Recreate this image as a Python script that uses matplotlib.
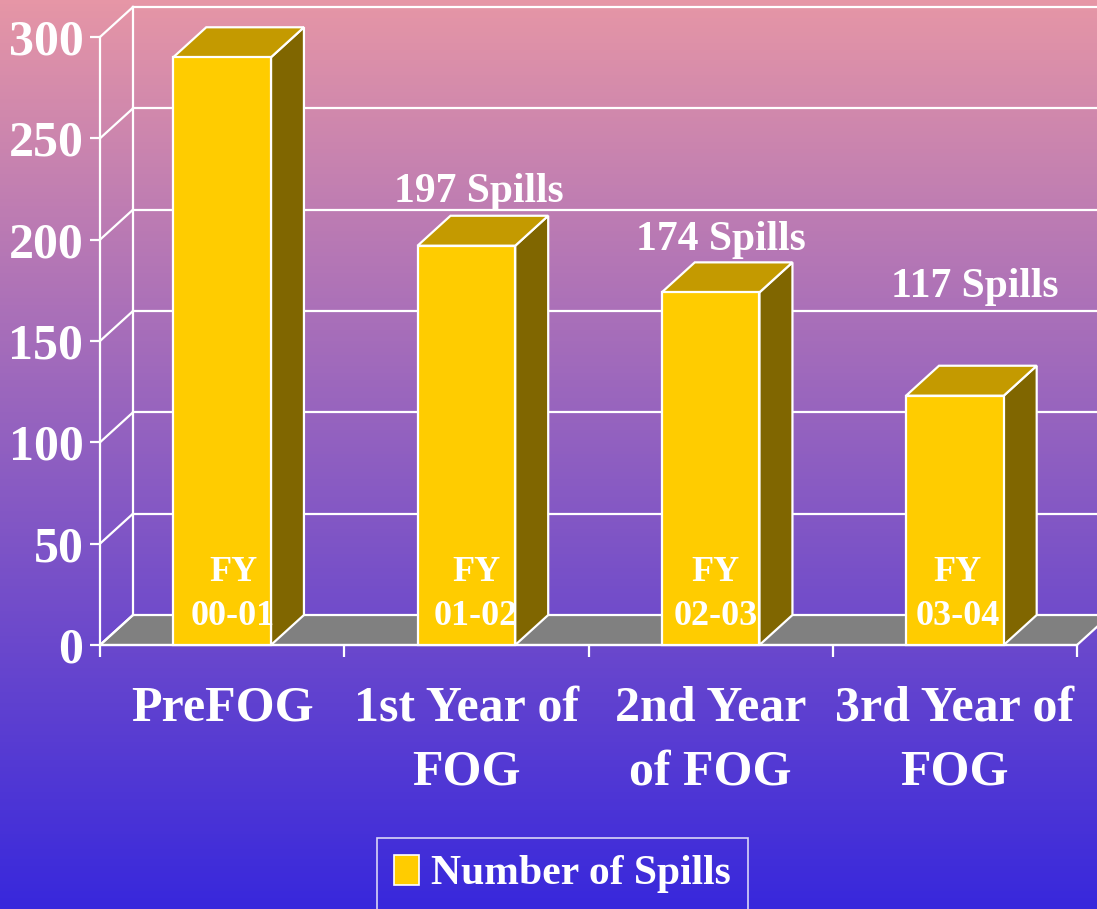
import numpy as np
import matplotlib
matplotlib.use('Agg')
import matplotlib.pyplot as plt
from matplotlib.patches import Polygon, Patch

# data
categories = ['PreFOG', '1st Year of\nFOG', '2nd Year\nof FOG', '3rd Year of\nFOG']
spills = [290, 197, 174, 123]
fy_labels = ['00-01', '01-02', '02-03', '03-04']
value_labels = [None, '197 Spills', '174 Spills', '117 Spills']
yticks = [0, 50, 100, 150, 200, 250, 300]

# label placement (data units)
value_label_pos = [None, (1.55, 218.6), (2.54, 194.9), (3.58, 171.7)]
fy_x = [0.545, 1.54, 2.52, 3.51]

plt.rcParams['font.family'] = ['Liberation Serif', 'DejaVu Serif']
plt.rcParams['font.weight'] = 'bold'

W, H = 1097, 909
fig = plt.figure(figsize=(W / 100, H / 100), dpi=100)

# gradient background
bg = fig.add_axes([0, 0, 1, 1])
top = np.array([230, 150, 166]) / 255
bot = np.array([56, 40, 220]) / 255
t = np.linspace(0, 1, 256)[:, None]
grad = top[None, :] * (1 - t) + bot[None, :] * t
bg.imshow(grad[:, None, :], aspect='auto', extent=[0, 1, 0, 1])
bg.set_axis_off()

ax = fig.add_axes([100 / W, (H - 645) / H, 977 / W, 608 / H])
ax.set_facecolor('none')
ax.set_xlim(0, 4)
ax.set_ylim(0, 300)

DX, DY = 0.135, 14.8   # depth offset of the 3d box
lw = 1.6
white = 'white'

# floor
floor = Polygon([(0, 0), (4, 0), (4 + DX, DY), (DX, DY)], closed=True,
                facecolor='#808080', edgecolor=white, lw=lw, zorder=1, clip_on=False)
ax.add_patch(floor)

# back wall and side wall grid
for v in yticks:
    ax.plot([0, DX], [v, v + DY], color=white, lw=lw, zorder=1.5, clip_on=False)
    if v > 0:
        ax.plot([DX, 4 + DX], [v + DY, v + DY], color=white, lw=lw, zorder=1.5, clip_on=False)
ax.plot([DX, DX], [DY, 300 + DY], color=white, lw=lw, zorder=1.5, clip_on=False)

# 3d bars
bw = 0.40
for i, h in enumerate(spills):
    x0 = i + 0.5 - bw / 2
    x1 = x0 + bw
    front = Polygon([(x0, 0), (x1, 0), (x1, h), (x0, h)], facecolor='#FFCC00',
                    edgecolor=white, lw=lw, zorder=3, clip_on=False)
    side = Polygon([(x1, 0), (x1 + DX, DY), (x1 + DX, h + DY), (x1, h)], facecolor='#806600',
                   edgecolor=white, lw=lw, zorder=3, clip_on=False)
    topf = Polygon([(x0, h), (x1, h), (x1 + DX, h + DY), (x0 + DX, h + DY)], facecolor='#C49A00',
                   edgecolor=white, lw=lw, zorder=3, clip_on=False)
    for p in (side, topf, front):
        ax.add_patch(p)
    ax.text(fy_x[i], 31.6, 'FY', color=white, fontsize=26, ha='center', va='baseline', zorder=5)
    ax.text(fy_x[i], 9.9, fy_labels[i], color=white, fontsize=26, ha='center', va='baseline', zorder=5)
    if value_labels[i]:
        px, py = value_label_pos[i]
        ax.text(px, py, value_labels[i], color=white, fontsize=30, ha='center', va='baseline',
                zorder=5, clip_on=False)

# axes
for s in ('top', 'right'):
    ax.spines[s].set_visible(False)
for s in ('left', 'bottom'):
    ax.spines[s].set_color(white)
    ax.spines[s].set_linewidth(lw)
ax.set_yticks(yticks)
ax.set_yticklabels([str(v) for v in yticks])
ax.tick_params(axis='y', colors=white, length=7, width=lw, pad=5, labelsize=36)
ax.set_xticks([0, 1, 2, 3, 4])
ax.set_xticklabels([])
ax.tick_params(axis='x', which='major', colors=white, length=8.6, width=lw)
ax.set_xticks([0.5, 1.5, 2.5, 3.5], categories, minor=True)
ax.tick_params(axis='x', which='minor', length=0, pad=29, labelsize=36, labelcolor=white)
for lab in ax.get_xticklabels(minor=True):
    lab.set_linespacing(1.52)

# legend
handle = Patch(facecolor='#FFCC00', edgecolor=white, lw=1.2, label='Number of Spills')
leg = fig.legend(handles=[handle], loc='upper left', bbox_to_anchor=(377 / W, 1 - 838 / H),
                 fontsize=30, frameon=True, fancybox=False, borderaxespad=0,
                 handlelength=0.6, handleheight=0.75, handletextpad=0.3, borderpad=0.4,
                 labelcolor=white)
leg.get_frame().set_facecolor('none')
leg.get_frame().set_edgecolor(white)
leg.get_frame().set_linewidth(1.2)

fig.savefig('out.png', dpi=100)
